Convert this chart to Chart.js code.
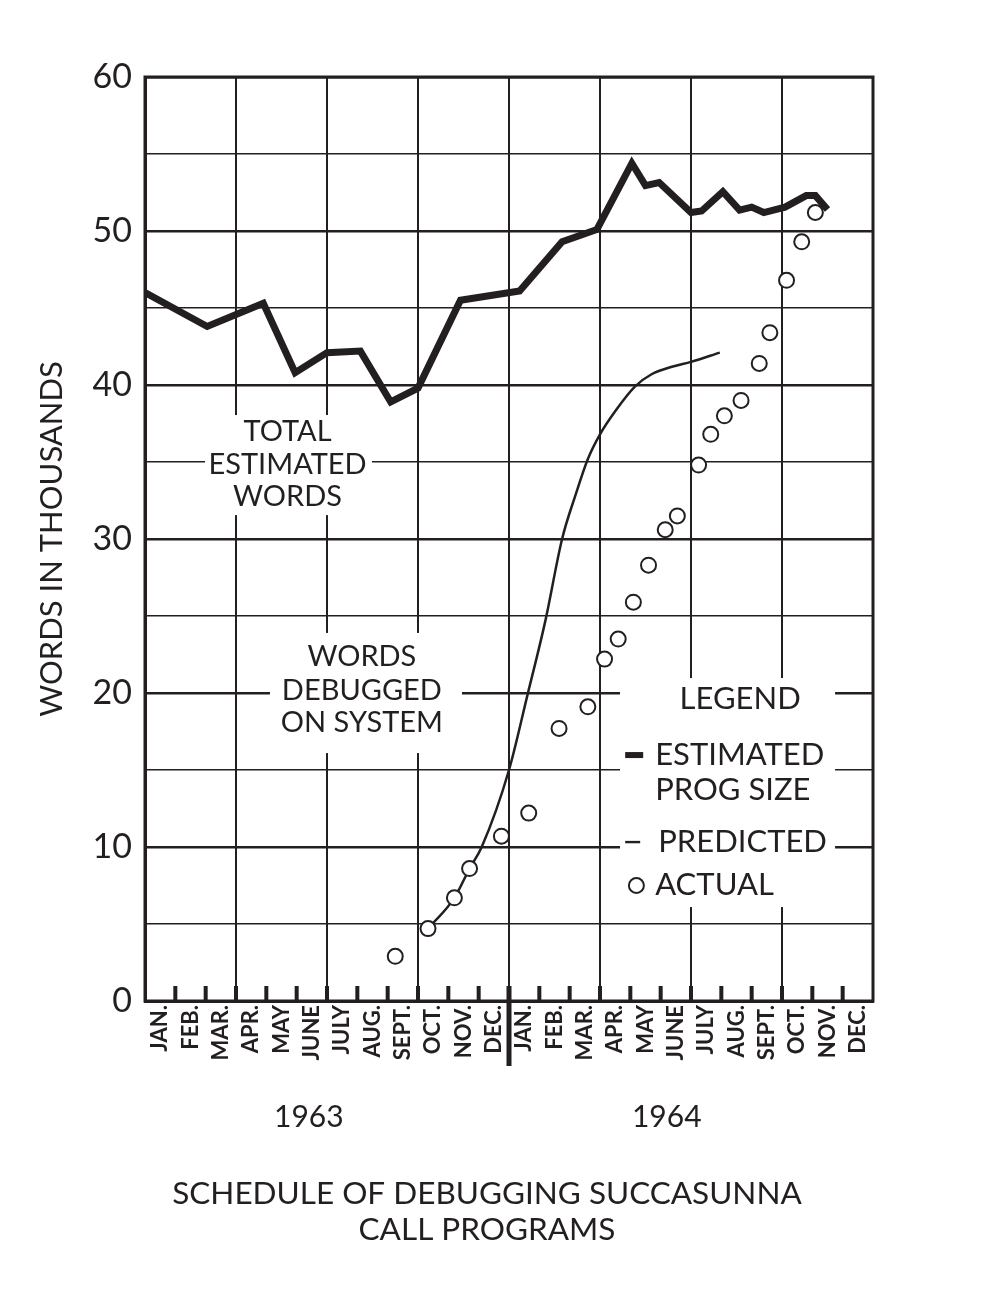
<!DOCTYPE html>
<html>
<head>
<meta charset="utf-8">
<script src="https://cdn.jsdelivr.net/npm/chart.js@4.4.1/dist/chart.umd.min.js"></script>
<style>
  html, body { margin: 0; padding: 0; background: #fff; }
</style>
</head>
<body>
<canvas id="debugChart" width="985" height="1292"></canvas>
<script>
// month names along the bottom (two years)
const monthLabels = ["JAN.", "FEB.", "MAR.", "APR.", "MAY", "JUNE", "JULY", "AUG.", "SEPT.", "OCT.", "NOV.", "DEC.",
  "JAN.", "FEB.", "MAR.", "APR.", "MAY", "JUNE", "JULY", "AUG.", "SEPT.", "OCT.", "NOV.", "DEC."];
const yearLabels = ["1963", "1964"];

// total estimated program size (months since Jan 1963, thousands of words)
const estMonths = [0, 2.05, 3.9, 4.95, 6.0, 7.1, 8.1, 9.0, 10.4, 12.35, 13.75, 14.9, 16.05, 16.5, 16.95, 18.0, 18.35, 19.05, 19.6, 20.0, 20.4, 21.1, 21.8, 22.1, 22.5];
const estWords = [46.0, 43.8, 45.3, 40.8, 42.1, 42.2, 38.9, 39.8, 45.5, 46.1, 49.3, 50.1, 54.4, 52.95, 53.15, 51.2, 51.3, 52.55, 51.35, 51.55, 51.2, 51.55, 52.3, 52.3, 51.4];

// predicted words debugged
const predMonths = [9.33, 10.2, 10.7, 11.1, 12.0, 12.6, 13.2, 13.75, 14.2, 14.6, 15.0, 15.5, 16.15, 16.7, 17.4, 18.0, 18.95];
const predWords = [4.7, 6.7, 8.6, 10.0, 15.0, 19.8, 24.7, 30.0, 32.9, 35.2, 36.8, 38.3, 39.9, 40.7, 41.2, 41.5, 42.1];

// actual words debugged
const actMonths = [8.25, 9.33, 10.2, 10.7, 11.75, 12.65, 13.65, 14.6, 15.15, 15.6, 16.1, 16.6, 17.15, 17.55, 18.25, 18.65, 19.1, 19.65, 20.25, 20.6, 21.15, 21.65, 22.1];
const actWords = [2.9, 4.7, 6.7, 8.6, 10.7, 12.2, 17.7, 19.1, 22.2, 23.5, 25.9, 28.3, 30.6, 31.5, 34.8, 36.8, 38.0, 39.0, 41.4, 43.4, 46.8, 49.3, 51.2];

const ink = "#231f20";
const fontName = "Lato";

function pts(xs, ys) {
  return xs.map((x, i) => ({ x: x, y: ys[i] }));
}

// white label boxes that break the grid, plus legend, years and caption
const notes = {
  id: "notes",
  beforeDatasetsDraw(chart) {
    const c = chart.ctx, x = chart.scales.x, y = chart.scales.y;
    const px = v => x.getPixelForValue(v), py = v => y.getPixelForValue(v);
    c.save();
    c.fillStyle = "#fff";
    // boxes (month/value corners)
    [[1.98, 38.05, 7.48, 31.55], [4.12, 23.9, 10.45, 16.1], [15.66, 20.97, 22.75, 6.1]].forEach(b => {
      c.fillRect(px(b[0]), py(b[1]), px(b[2]) - px(b[0]), py(b[3]) - py(b[1]));
    });
    c.fillStyle = ink;
    c.textBaseline = "middle";
    c.textAlign = "center";
    c.font = "29px " + fontName;
    c.fillText("TOTAL", px(4.7), py(36.95));
    c.fillText("ESTIMATED", px(4.7), py(34.8));
    c.fillText("WORDS", px(4.7), py(32.73));
    c.fillText("WORDS", px(7.15), py(22.34));
    c.fillText("DEBUGGED", px(7.15), py(20.13));
    c.fillText("ON SYSTEM", px(7.15), py(18.05));
    c.font = "31px " + fontName;
    c.fillText("LEGEND", px(19.62), py(19.6));
    c.textAlign = "left";
    c.fillText("ESTIMATED", px(16.82), py(15.97));
    c.fillText("PROG SIZE", px(16.82), py(13.7));
    c.fillText("PREDICTED", px(16.92), py(10.32));
    c.fillText("ACTUAL", px(16.82), py(7.53));
    // legend keys
    c.fillRect(px(15.83), py(15.97) - 3, 18, 6);
    c.fillRect(px(15.83), py(10.32) - 1.2, 15, 2.4);
    c.beginPath();
    c.arc(px(16.2), py(7.5), 7.5, 0, Math.PI * 2);
    c.fillStyle = "#fff";
    c.fill();
    c.lineWidth = 2;
    c.strokeStyle = ink;
    c.stroke();
    c.restore();
  },
  afterDraw(chart) {
    const c = chart.ctx, x = chart.scales.x, a = chart.chartArea;
    c.save();
    c.fillStyle = ink;
    // month boundary ticks inside the plot
    for (let m = 1; m < 24; m++) {
      c.fillRect(x.getPixelForValue(m) - 2, a.bottom - 15, 4, 15);
    }
    // year divider
    c.fillRect(x.getPixelForValue(12) - 2.5, a.bottom - 15, 5, 80);
    // frame top/right
    c.lineWidth = 3;
    c.strokeStyle = ink;
    c.strokeRect(a.left, a.top, a.right - a.left, a.bottom - a.top);
    // years
    c.textAlign = "center";
    c.textBaseline = "middle";
    c.font = "30px " + fontName;
    c.fillText(yearLabels[0], x.getPixelForValue(5.4), 1117);
    c.fillText(yearLabels[1], x.getPixelForValue(17.2), 1117);
    c.font = "31.5px " + fontName;
    c.fillText("SCHEDULE OF DEBUGGING SUCCASUNNA", 487, 1194);
    c.fillText("CALL PROGRAMS", 487, 1230);
    c.restore();
  }
};

const ctx = document.getElementById("debugChart").getContext("2d");
const chart = new Chart(ctx, {
  type: "line",
  data: {
    datasets: [
      {
        label: "Estimated prog size",
        data: pts(estMonths, estWords),
        borderColor: ink,
        borderWidth: 7,
        borderJoinStyle: "miter",
        pointRadius: 0,
        tension: 0,
        order: 1
      },
      {
        label: "Predicted",
        data: pts(predMonths, predWords),
        borderColor: ink,
        borderWidth: 2.5,
        pointRadius: 0,
        cubicInterpolationMode: "monotone",
        order: 2
      },
      {
        label: "Actual",
        data: pts(actMonths, actWords),
        showLine: false,
        pointRadius: 7.5,
        pointBorderWidth: 2,
        pointBorderColor: ink,
        pointBackgroundColor: "#fff",
        order: 0
      }
    ]
  },
  options: {
    responsive: false,
    animation: false,
    layout: { padding: { top: 77, right: 112, left: 0, bottom: 0 } },
    plugins: { legend: { display: false }, tooltip: { enabled: false } },
    scales: {
      x: {
        type: "linear",
        min: 0,
        max: 24,
        weight: 0,
        ticks: { stepSize: 1, display: false },
        grid: {
          drawTicks: false,
          color: c => (c.tick.value % 3 === 0 ? ink : "rgba(0,0,0,0)"),
          lineWidth: 2
        },
        border: { color: ink, width: 3 },
        afterFit: s => { s.height = 0; }
      },
      xm: {
        type: "category",
        position: "bottom",
        labels: monthLabels,
        offset: true,
        weight: 1,
        grid: { display: false, drawTicks: false },
        border: { display: false },
        ticks: {
          color: ink,
          font: { family: fontName, size: 22, weight: "bold" },
          minRotation: 90,
          maxRotation: 90,
          autoSkip: false,
          padding: 4
        },
        afterFit: s => { s.height = 291; }
      },
      y: {
        min: 0,
        max: 60,
        ticks: {
          stepSize: 5,
          color: ink,
          padding: 13,
          font: { family: fontName, size: 34 },
          callback: v => (v % 10 === 0 ? v : "")
        },
        grid: {
          drawTicks: false,
          color: ink,
          lineWidth: c => (c.tick.value % 10 === 0 ? 2.4 : 1.5)
        },
        border: { color: ink, width: 3 },
        title: {
          display: true,
          text: "WORDS IN THOUSANDS",
          color: ink,
          font: { family: fontName, size: 31 },
          padding: { top: 33, bottom: 0 }
        },
        afterFit: s => { s.width = 145; }
      }
    }
  },
  plugins: [notes]
});
</script>
</body>
</html>
